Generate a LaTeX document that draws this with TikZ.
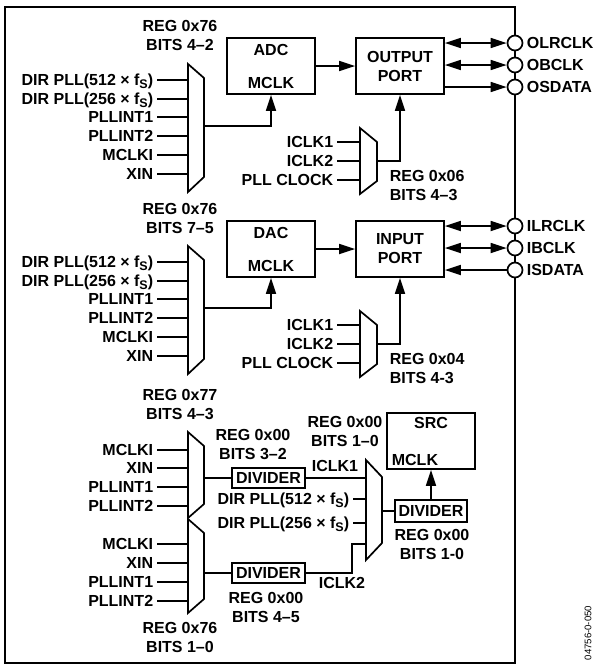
\documentclass[tikz,border=0pt]{standalone}
\usepackage{fontspec}
\setmainfont{Liberation Sans}
\usetikzlibrary{arrows.meta}
\newcommand{\myfs}{f\raisebox{-3pt}{\fontsize{12.5}{12.5}\selectfont S}}
\begin{document}
\begin{tikzpicture}[x=1pt,y=-1pt, line width=1.7pt,
  txt/.style={font=\bfseries\fontsize{16}{19}\selectfont, inner sep=0pt, align=center},
  inl/.style={txt, anchor=east, inner xsep=3pt, text height=11.5pt, text depth=0pt},
  blk/.style={draw, txt, minimum width=88pt, minimum height=56pt},
  divbox/.style={draw, txt, minimum width=73pt, minimum height=20pt, text height=11.5pt, text depth=0pt},
  pin/.style={draw, fill=white, circle, minimum size=15pt, inner sep=0pt},
  arr/.style={-{Triangle[length=16pt,width=10pt]}},
  darr/.style={{Triangle[length=16pt,width=10pt]}-{Triangle[length=16pt,width=10pt]}},
  mux/.style={draw, line join=miter},
  pinl/.style={txt, anchor=west, text height=11.5pt, text depth=0pt}
]
\useasboundingbox (0,0) rectangle (597,665);
\draw (5,7) rectangle (515,663);

% ---------- top section ----------
\node[blk] (adc) at (271,66) {ADC\\[14pt]MCLK};
\node[blk] (outp) at (400,66) {OUTPUT\\PORT};
\draw[arr] (adc.east) -- (outp.west);

\node[pin] (olrclk) at (515,43) {};
\node[pin] (obclk) at (515,65) {};
\node[pin] (osdata) at (515,87) {};
\node[pinl] (olrclkt) at (526,43) {OLRCLK};
\node[pinl] (obclkt) at (526,65) {OBCLK};
\node[pinl] (osdatat) at (526,87) {OSDATA};
\draw[darr] (outp.east |- olrclk) -- (olrclk.west);
\draw[darr] (outp.east |- obclk) -- (obclk.west);
\draw[arr] (outp.east |- osdata) -- (osdata.west);

\draw[mux] (188,64) -- (204,78) -- (204,177) -- (188,192) -- cycle;
\coordinate (m1l) at (188,64);
\coordinate (m1o) at (204,126);
\foreach \lab/\yy [count=\i] in {{DIR PLL(512 × \myfs)}/80, {DIR PLL(256 × \myfs)}/99, PLLINT1/117, PLLINT2/136, MCLKI/155, XIN/174} {
  \node[inl] (a\i) at (157,\yy) {\lab};
  \draw (a\i.east) -- (a\i.east -| m1l);
}
\draw[arr] (m1o) -| (adc.south);
\node[txt] (r1) at (180,35.5) {REG 0x76\\BITS 4–2};

\draw[mux] (360,128) -- (377,142) -- (377,181) -- (360,194) -- cycle;
\coordinate (c1l) at (360,128);
\coordinate (c1o) at (377,161);
\foreach \lab/\yy [count=\i] in {ICLK1/142, ICLK2/161, PLL CLOCK/180} {
  \node[inl] (b\i) at (337,\yy) {\lab};
  \draw (b\i.east) -- (b\i.east -| c1l);
}
\draw[arr] (c1o) -| (outp.south);
\node[txt, anchor=west, align=left] (r2) at (389,185) {REG 0x06\\BITS 4–3};

% ---------- middle section ----------
\node[blk] (dac) at (271,249) {DAC\\[14pt]MCLK};
\node[blk] (inp) at (400,249) {INPUT\\PORT};
\draw[arr] (dac.east) -- (inp.west);

\node[pin] (ilrclk) at (515,226) {};
\node[pin] (ibclk) at (515,248) {};
\node[pin] (isdata) at (515,270) {};
\node[pinl] (ilrclkt) at (526,226) {ILRCLK};
\node[pinl] (ibclkt) at (526,248) {IBCLK};
\node[pinl] (isdatat) at (526,270) {ISDATA};
\draw[darr] (inp.east |- ilrclk) -- (ilrclk.west);
\draw[darr] (inp.east |- ibclk) -- (ibclk.west);
\draw[arr] (isdata.west) -- (inp.east |- isdata);

\draw[mux] (188,246) -- (204,260) -- (204,359) -- (188,374) -- cycle;
\coordinate (m2l) at (188,246);
\coordinate (m2o) at (204,308);
\foreach \lab/\yy [count=\i] in {{DIR PLL(512 × \myfs)}/262, {DIR PLL(256 × \myfs)}/281, PLLINT1/299, PLLINT2/318, MCLKI/337, XIN/356} {
  \node[inl] (d\i) at (157,\yy) {\lab};
  \draw (d\i.east) -- (d\i.east -| m2l);
}
\draw[arr] (m2o) -| (dac.south);
\node[txt] (r3) at (180,218) {REG 0x76\\BITS 7–5};

\draw[mux] (360,311) -- (377,325) -- (377,364) -- (360,377) -- cycle;
\coordinate (c2l) at (360,311);
\coordinate (c2o) at (377,344);
\foreach \lab/\yy [count=\i] in {ICLK1/325, ICLK2/344, PLL CLOCK/363} {
  \node[inl] (e\i) at (337,\yy) {\lab};
  \draw (e\i.east) -- (e\i.east -| c2l);
}
\draw[arr] (c2o) -| (inp.south);
\node[txt, anchor=west, align=left] (r4) at (389,368.5) {REG 0x04\\BITS 4-3};

% ---------- bottom section ----------
\node[txt] (r5) at (180,404) {REG 0x77\\BITS 4–3};
\draw[mux] (188,432) -- (204,446) -- (204,504) -- (188,518) -- cycle;
\coordinate (m3l) at (188,432);
\coordinate (m3o) at (204,478);
\foreach \lab/\yy [count=\i] in {MCLKI/450, XIN/468, PLLINT1/487, PLLINT2/506} {
  \node[inl] (f\i) at (157,\yy) {\lab};
  \draw (f\i.east) -- (f\i.east -| m3l);
}
\draw[mux] (188,519) -- (204,533) -- (204,599) -- (188,613) -- cycle;
\coordinate (m4l) at (188,519);
\coordinate (m4o) at (204,573);
\foreach \lab/\yy [count=\i] in {MCLKI/544, XIN/563, PLLINT1/582, PLLINT2/601} {
  \node[inl] (g\i) at (157,\yy) {\lab};
  \draw (g\i.east) -- (g\i.east -| m4l);
}
\node[txt] (r6) at (180,637.5) {REG 0x76\\BITS 1–0};

\node[divbox] (dv1) at (268.5,478) {DIVIDER};
\node[divbox] (dv2) at (268.5,573) {DIVIDER};
\draw (m3o) -- (dv1.west);
\draw (m4o) -- (dv2.west);
\node[txt] (r7) at (253,444.5) {REG 0x00\\BITS 3–2};
\node[txt] (r8) at (266,607.5) {REG 0x00\\BITS 4–5};

\draw[mux] (366,460) -- (382,477) -- (382,543) -- (366,560) -- cycle;
\coordinate (m5l) at (366,460);
\coordinate (m5o) at (382,511);
\draw (dv1.east) -- (dv1.east -| m5l);
\node[txt] (k1t) at (335,466) {ICLK1};
\node[inl] (h1) at (353,499) {DIR PLL(512 × \myfs)};
\node[inl] (h2) at (353,523) {DIR PLL(256 × \myfs)};
\draw (h1.east) -- (h1.east -| m5l);
\draw (h2.east) -- (h2.east -| m5l);
\coordinate (k2) at (352,544);
\draw (dv2.east) -| (k2) -- (k2 -| m5l);
\node[txt] (k2t) at (342,583) {ICLK2};

\node[divbox, minimum width=72pt, minimum height=22pt] (dv3) at (431,511) {DIVIDER};
\draw (m5o) -- (dv3.west);
\node[draw, minimum width=88pt, minimum height=56pt] (src) at (431,441) {};
\node[txt] (srct) at (431,423) {SRC};
\node[txt, anchor=west] (srcm) at (391,460) {MCLK};
\draw[arr] (dv3.north) -- (src.south);
\node[txt] (r9) at (345,431.5) {REG 0x00\\BITS 1–0};
\node[txt] (r10) at (432,544.5) {REG 0x00\\BITS 1-0};

\node[rotate=90, font=\fontsize{9.6}{10}\selectfont, inner sep=0pt] (fig) at (588,633) {04756-0-050};
\end{tikzpicture}
\end{document}
